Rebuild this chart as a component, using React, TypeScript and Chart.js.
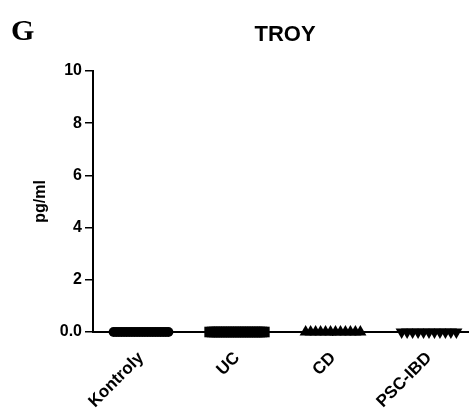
import React, { useEffect, useRef } from "react";
import { Chart, registerables } from "chart.js";

Chart.register(...registerables);

const panelLetter = "G";
const chartTitle = "TROY";
const yAxisTitle = "pg/ml";
const categories = ["Kontroly", "UC", "CD", "PSC-IBD"];
const yTickValues = [0, 2, 4, 6, 8, 10];
const kontroly = [0, 0, 0, 0, 0, 0, 0, 0, 0, 0, 0, 0, 0, 0, 0, 0, 0, 0, 0, 0, 0, 0];
const uc = [0, 0, 0, 0, 0, 0, 0, 0, 0, 0, 0, 0, 0, 0, 0, 0, 0, 0, 0, 0, 0, 0, 0, 0];
const cd = [0, 0, 0, 0, 0, 0, 0, 0, 0, 0, 0, 0];
const pscIbd = [0, 0, 0, 0, 0, 0, 0, 0, 0, 0, 0];

const SPREAD = 0.285;
const FONT = '"Liberation Sans", Arial, sans-serif';

function spreadPoints(vals: number[], gi: number) {
  return vals.map((v, i) => ({
    x: gi + (vals.length > 1 ? (i / (vals.length - 1) - 0.5) * 2 * SPREAD : 0),
    y: v,
  }));
}

const headerPlugin = {
  id: "header",
  afterDraw(chart: any) {
    const { ctx, chartArea } = chart;
    ctx.save();
    ctx.fillStyle = "#000";
    ctx.textBaseline = "alphabetic";
    ctx.textAlign = "left";
    ctx.font = 'bold 30px "Liberation Serif", "Times New Roman", serif';
    ctx.fillText(panelLetter, 11, 40);
    ctx.textAlign = "center";
    ctx.font = `bold 22px ${FONT}`;
    ctx.fillText(chartTitle, (chartArea.left + chartArea.right) / 2, 41);
    ctx.restore();
  },
};

export default function App() {
  const ref = useRef<HTMLCanvasElement>(null);
  useEffect(() => {
    if (!ref.current) return;
    const common = {
      backgroundColor: "#000",
      borderColor: "#000",
      borderWidth: 0,
      clip: false as any,
      showLine: false,
    };
    const chart = new Chart(ref.current, {
      type: "scatter",
      data: {
        datasets: [
          { ...common, label: categories[0], data: spreadPoints(kontroly, 0), pointStyle: "circle", pointRadius: 5 },
          { ...common, label: categories[1], data: spreadPoints(uc, 1), pointStyle: "rect", pointRadius: 7.5 },
          { ...common, label: categories[2], data: spreadPoints(cd, 2), pointStyle: "triangle", pointRadius: 7 },
          { ...common, label: categories[3], data: spreadPoints(pscIbd, 3), pointStyle: "triangle", rotation: 180, pointRadius: 7 },
        ] as any,
      },
      options: {
        responsive: false,
        animation: false,
        layout: { padding: { top: 71, right: 8, bottom: 0, left: 0 } },
        plugins: { legend: { display: false }, tooltip: { enabled: false }, title: { display: false } },
        scales: {
          x: {
            type: "linear",
            min: -0.5,
            max: 3.5,
            afterBuildTicks: (scale: any) => {
              scale.ticks = categories.map((_, i) => ({ value: i }));
            },
            afterFit: (scale: any) => {
              scale.height = 80;
            },
            ticks: {
              autoSkip: false,
              minRotation: 45,
              maxRotation: 45,
              padding: 12,
              color: "#000",
              font: { family: FONT, size: 17, weight: "bold" },
              callback: (v: any) => categories[Math.round(Number(v))] ?? "",
            },
            grid: { drawOnChartArea: false, drawTicks: true, tickLength: 4, color: "#000", lineWidth: 1.5 },
            border: { display: true, color: "#000", width: 2 },
          },
          y: {
            min: 0,
            max: 10,
            afterBuildTicks: (scale: any) => {
              scale.ticks = yTickValues.map((v) => ({ value: v }));
            },
            afterFit: (scale: any) => {
              scale.width = 93;
            },
            ticks: {
              padding: 3,
              color: "#000",
              font: { family: FONT, size: 16, weight: "bold" },
              callback: (v: any) => (Number(v) === 0 ? "0.0" : String(v)),
            },
            title: {
              display: true,
              text: yAxisTitle,
              color: "#000",
              font: { family: FONT, size: 16, weight: "bold" },
              padding: { top: 31, bottom: 0 },
            },
            grid: { drawOnChartArea: false, drawTicks: true, tickLength: 8, color: "#000", lineWidth: 1.5 },
            border: { display: true, color: "#000", width: 2 },
          },
        },
      },
      plugins: [headerPlugin],
    });
    return () => chart.destroy();
  }, []);

  return (
    <div style={{ position: "fixed", left: 0, top: 0, width: 469, height: 412, overflow: "hidden", background: "#fff" }}>
      <canvas ref={ref} width={485} height={412} style={{ display: "block" }} />
    </div>
  );
}
